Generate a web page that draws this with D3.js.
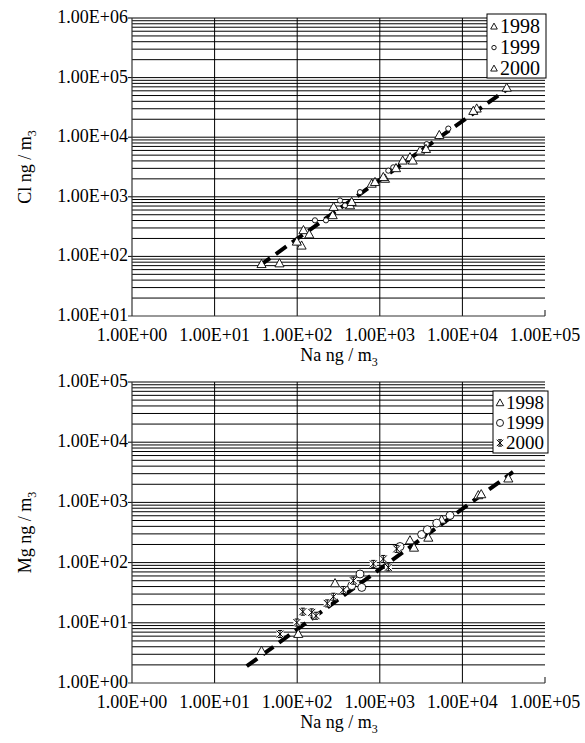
<!DOCTYPE html>
<html>
<head>
<meta charset="utf-8">
<script src="https://cdn.jsdelivr.net/npm/d3@7"></script>
<style>
  body { margin: 0; background: #fff; }
  svg { font-family: "Liberation Serif", "Times New Roman", serif; }
  .grid line { stroke: #000; stroke-width: 1; }
</style>
</head>
<body>
<svg width="585" height="743"></svg>
<script>
// x axis (shared)
const naTicks = [1, 10, 100, 1000, 10000, 100000];
const naTickLabels = ["1.00E+00", "1.00E+01", "1.00E+02", "1.00E+03", "1.00E+04", "1.00E+05"];

// top chart: Cl vs Na
const clTicks = [10, 100, 1000, 10000, 100000, 1000000];
const clTickLabels = ["1.00E+01", "1.00E+02", "1.00E+03", "1.00E+04", "1.00E+05", "1.00E+06"];
const na98a = [61, 113, 119, 269, 276, 436, 798, 875, 1156, 2321, 2503, 5252, 14900];
const cl98 = [76, 151, 274, 489, 673, 717, 1648, 1758, 1995, 4585, 4033, 10800, 30100];
const na99a = [164, 223, 330, 379, 576, 1268, 1457, 3699, 6750];
const cl99 = [403, 403, 868, 717, 1197, 2746, 3121, 7645, 13940];
const na00a = [37, 99, 140, 457, 1103, 1571, 1893, 3068, 3625, 13550, 34400];
const cl00 = [74, 176, 233, 815, 2130, 3006, 4033, 5911, 6310, 27460, 67300];
const clFitNa = [35, 36000];
const clFit = [70, 66000];

// bottom chart: Mg vs Na
const mgTicks = [1, 10, 100, 1000, 10000, 100000];
const mgTickLabels = ["1.00E+00", "1.00E+01", "1.00E+02", "1.00E+03", "1.00E+04", "1.00E+05"];
const na98b = [37, 103, 287, 2321, 2594, 3865, 5612, 15580, 16900, 35970];
const mg98 = [3.4, 6.5, 45.2, 233, 176, 258, 514, 1309, 1359, 2483];
const na99b = [457, 576, 605, 1757, 3213, 3758, 4887, 7079];
const mg99 = [41.4, 64.7, 38.7, 185, 293, 351, 452, 607];
const na00b = [62, 99, 117, 150, 169, 231, 274, 361, 478, 834, 1103, 1268, 1601];
const mg00 = [6.5, 10.1, 15.3, 14.9, 13.1, 21.0, 27.1, 35.1, 50.1, 95.2, 115, 83.5, 169];
const mgFitNa = [24.5, 41000];
const mgFit = [1.9, 3200];

const years = ["1998", "1999", "2000"];

const svg = d3.select("svg");

function triangle(g, s) {
    g.append("path")
        .attr("d", `M0,${-s}L${s * 0.95},${s * 0.7}L${-s * 0.95},${s * 0.7}Z`)
        .attr("fill", "#fff").attr("stroke", "#000").attr("stroke-width", 0.9);
}
function circle(g, r) {
    g.append("circle").attr("r", r)
        .attr("fill", "#fff").attr("stroke", "#000").attr("stroke-width", 0.9);
}
function star(g, s) {
    g.append("rect").attr("x", -s).attr("y", -s).attr("width", 2 * s).attr("height", 2 * s)
        .attr("fill", "#fff");
    g.append("path")
        .attr("d", `M${-s},${-s}L${s},${s}M${s},${-s}L${-s},${s}M0,${-s}L0,${s}M${-s * 0.6},${-s}L${s * 0.6},${-s}M${-s * 0.6},${s}L${s * 0.6},${s}`)
        .attr("stroke", "#000").attr("stroke-width", 1).attr("fill", "none");
}

function drawPanel(opt) {
    const x = d3.scaleLog().domain([1, 100000]).range([132, 545]);
    const y = d3.scaleLog().domain(opt.yDomain).range([opt.bottom, opt.top]);
    const g = svg.append("g");

    // horizontal grid (major + minor)
    const hVals = [];
    const lo = Math.round(Math.log10(opt.yDomain[0])), hi = Math.round(Math.log10(opt.yDomain[1]));
    for (let e = lo; e < hi; e++) {
        for (let m = 1; m <= 9; m++) hVals.push(m * Math.pow(10, e));
    }
    hVals.push(Math.pow(10, hi));
    g.append("g").attr("class", "grid")
        .selectAll("line").data(hVals.filter(v => v > opt.yDomain[0]))
        .enter().append("line")
        .attr("x1", d => opt.yTicks.includes(d) ? 128 : 132)
        .attr("x2", 545)
        .attr("y1", d => y(d)).attr("y2", d => y(d));

    // vertical grid at decades
    g.append("g").attr("class", "grid")
        .selectAll("line").data(naTicks.slice(1, 5))
        .enter().append("line")
        .attr("x1", d => x(d)).attr("x2", d => x(d))
        .attr("y1", opt.top).attr("y2", opt.bottom);

    // axes
    g.append("line").attr("x1", x(1)).attr("x2", x(1))
        .attr("y1", opt.top).attr("y2", opt.bottom).attr("stroke", "#333").attr("stroke-width", 1.2);
    g.append("line").attr("x1", x(1) - 4).attr("x2", x(100000))
        .attr("y1", opt.bottom).attr("y2", opt.bottom).attr("stroke", "#333").attr("stroke-width", 1.2);
    g.append("line").attr("x1", x(100000)).attr("x2", x(100000))
        .attr("y1", opt.bottom).attr("y2", opt.bottom - 6).attr("stroke", "#333").attr("stroke-width", 1.2);

    // tick labels
    g.append("g").selectAll("text").data(opt.yTicks)
        .enter().append("text")
        .attr("x", 128).attr("y", d => y(d) + 5)
        .attr("text-anchor", "end").attr("font-size", 18)
        .text((d, i) => opt.yTickLabels[i]);
    g.append("g").selectAll("text").data(naTicks)
        .enter().append("text")
        .attr("x", d => x(d)).attr("y", opt.bottom + 25)
        .attr("text-anchor", "middle").attr("font-size", 18)
        .text((d, i) => naTickLabels[i]);

    // axis titles
    const xt = g.append("text").attr("x", 339).attr("y", opt.bottom + 45)
        .attr("text-anchor", "middle").attr("font-size", 18);
    xt.append("tspan").text("Na ng / m");
    xt.append("tspan").attr("font-size", 12).attr("dy", 5).text("3");
    const yt = g.append("text")
        .attr("transform", `translate(31,${(opt.top + opt.bottom) / 2}) rotate(-90)`)
        .attr("text-anchor", "middle").attr("font-size", 18);
    yt.append("tspan").text(opt.yName + " ng / m");
    yt.append("tspan").attr("font-size", 12).attr("dy", 5).text("3");

    // fit line
    g.append("path")
        .datum(opt.fitX.map((v, i) => [v, opt.fitY[i]]))
        .attr("d", d3.line().x(d => x(d[0])).y(d => y(d[1])))
        .attr("stroke", "#000").attr("stroke-width", 4)
        .attr("stroke-dasharray", "13,7").attr("fill", "none");

    // points
    opt.series.forEach(s => {
        const pts = s.x.map((v, i) => [v, s.y[i]]);
        g.append("g").selectAll("g").data(pts)
            .enter().append("g")
            .attr("transform", d => `translate(${x(d[0])},${y(d[1])})`)
            .each(function () { s.mark(d3.select(this)); });
    });

    // legend
    const L = opt.legend;
    const lg = g.append("g");
    lg.append("rect").attr("x", L.x).attr("y", L.y).attr("width", L.w).attr("height", L.h)
        .attr("fill", "#fff").attr("stroke", "#000").attr("stroke-width", 1);
    years.forEach((yr, i) => {
        const row = lg.append("g").attr("transform", `translate(0,${L.y + L.first + i * L.step})`);
        const m = row.append("g").attr("transform", `translate(${L.mx},${-L.fs * 0.32})`);
        opt.series[i].legendMark(m);
        row.append("text").attr("x", L.tx).attr("y", 0).attr("font-size", L.fs).text(yr);
    });
}

drawPanel({
    top: 18, bottom: 316, yDomain: [10, 1000000],
    yTicks: clTicks, yTickLabels: clTickLabels, yName: "Cl",
    fitX: clFitNa, fitY: clFit,
    series: [
        { x: na98a, y: cl98, mark: g => triangle(g, 4.8), legendMark: g => triangle(g, 3.5) },
        { x: na99a, y: cl99, mark: g => circle(g, 2.6), legendMark: g => circle(g, 2.2) },
        { x: na00a, y: cl00, mark: g => triangle(g, 4.8), legendMark: g => triangle(g, 3.5) }
    ],
    legend: { x: 487, y: 14, w: 59, h: 64, first: 19, step: 21, mx: 494, tx: 500, fs: 20 }
});

drawPanel({
    top: 382, bottom: 683, yDomain: [1, 100000],
    yTicks: mgTicks, yTickLabels: mgTickLabels, yName: "Mg",
    fitX: mgFitNa, fitY: mgFit,
    series: [
        { x: na98b, y: mg98, mark: g => triangle(g, 4.8), legendMark: g => triangle(g, 4) },
        { x: na99b, y: mg99, mark: g => circle(g, 4), legendMark: g => circle(g, 3.5) },
        { x: na00b, y: mg00, mark: g => star(g, 3.5), legendMark: g => star(g, 3.2) }
    ],
    legend: { x: 493, y: 391, w: 55, h: 62, first: 18, step: 20, mx: 500, tx: 506, fs: 19 }
});
</script>
</body>
</html>
